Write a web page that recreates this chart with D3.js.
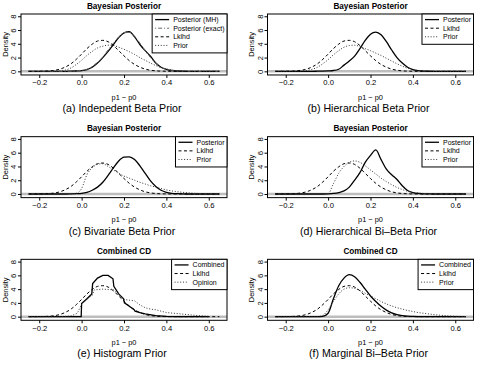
<!DOCTYPE html>
<html><head><meta charset="utf-8">
<script src="https://cdn.jsdelivr.net/npm/d3@7"></script>
<style>
body{margin:0;background:#fff}
svg{display:block}
text{font-family:"Liberation Sans",Arial,Helvetica,sans-serif;fill:#000}
</style>
</head><body>
<svg id="chart" width="493" height="368"></svg>
<script>
// ---------- DATA ----------
const xGrid = [-0.25,-0.225,-0.2,-0.175,-0.15,-0.125,-0.1,-0.075,-0.05,-0.025,
  0,0.025,0.05,0.075,0.1,0.125,0.15,0.175,0.2,0.225,
  0.25,0.275,0.3,0.325,0.35,0.375,0.4,0.425,0.45,0.475,
  0.5,0.525,0.55,0.575,0.6,0.625,0.65];
const xTicks = [-0.2,0.0,0.2,0.4,0.6];
const yTicks = [0,2,4,6,8];

const lkhd = [0,0,0.01,0.03,0.07,0.16,0.34,0.65,1.1,1.75,
  2.5,3.3,3.95,4.4,4.5,4.3,3.75,3.0,2.25,1.55,
  1.0,0.6,0.32,0.16,0.07,0.03,0.01,0,0,0,
  0,0,0,0,0,0,0];

const postMH_A = [0,0,0,0,0,0,0,0,0.02,0.05,
  0.1,0.25,0.6,1.2,2.0,2.9,3.9,4.9,5.6,5.75,
  5.0,3.9,3.0,2.2,1.2,0.6,0.3,0.12,0.05,0.02,
  0,0,0,0,0,0,0];
const postEx_A = [0,0,0,0,0,0,0,0,0.02,0.04,
  0.1,0.3,0.7,1.3,2.1,3.1,4.1,5.0,5.6,5.7,
  5.1,4.1,3.0,2.0,1.2,0.6,0.3,0.12,0.05,0.02,
  0,0,0,0,0,0,0];
const prior_A = [0,0,0,0,0,0,0.05,0.2,0.5,1.0,
  1.6,2.3,2.9,3.4,3.65,3.8,3.75,3.5,3.2,2.85,
  2.45,2.0,1.6,1.2,0.85,0.55,0.35,0.2,0.1,0.05,
  0.02,0,0,0,0,0,0];

const post_B = [0,0,0,0,0,0,0,0,0.02,0.04,
  0.07,0.12,0.3,0.9,1.5,2.2,3.3,4.5,5.4,5.7,
  5.3,4.3,3.1,2.0,1.2,0.6,0.25,0.1,0.04,0.01,
  0,0,0,0,0,0,0];
const prior_B = [0,0,0,0,0.02,0.05,0.12,0.3,0.6,1.1,
  1.7,2.4,3.0,3.5,3.75,3.8,3.6,3.3,3.0,2.65,
  2.3,1.9,1.5,1.1,0.75,0.45,0.25,0.12,0.05,0.02,
  0,0,0,0,0,0,0];

const post_C = [0,0,0,0,0,0,0,0,0.02,0.05,
  0.1,0.25,0.55,1.0,1.7,2.7,3.8,4.8,5.35,5.4,
  5.0,4.1,3.0,1.9,1.1,0.55,0.25,0.1,0.04,0.01,
  0,0,0,0,0,0,0];
const prior_C = [0,0,0,0,0,0,0,0,0,0.1,
  0.8,2.8,3.8,4.3,4.4,4.0,3.5,3.0,2.6,2.3,
  2.0,1.7,1.45,1.2,1.0,0.8,0.6,0.45,0.35,0.25,
  0.18,0.12,0.08,0.05,0.03,0.02,0.01];

const post_D = [0,0,0,0,0,0,0,0,0,0,
  0.02,0.08,0.2,0.45,1.0,2.0,3.1,4.6,5.6,6.4,
  5.0,3.6,2.8,2.1,1.2,0.5,0.2,0.08,0.03,0.01,
  0,0,0,0,0,0,0];
const prior_D = [0,0,0,0,0,0,0,0,0,0,
  0.05,1.5,3.0,4.0,4.6,4.8,4.6,4.1,3.5,2.9,
  2.3,1.8,1.35,0.95,0.65,0.4,0.25,0.15,0.08,0.04,
  0.02,0.01,0,0,0,0,0];

const xComb_E = [-0.25,-0.05,-0.002,0.0,0.025,0.048,0.052,0.075,0.1,0.125,0.148,0.152,0.175,0.198,0.202,0.225,0.248,0.252,0.275,0.3,0.35,0.4,0.45,0.5,0.6];
const comb_E  = [0,0,0,1.9,2.6,3.3,4.8,5.6,6.0,6.0,5.5,4.4,3.3,2.6,2.0,1.5,1.0,0.8,0.6,0.4,0.15,0.05,0.02,0,0];
const xOpin_E = [-0.25,-0.1,-0.05,-0.02,0.0,0.025,0.05,0.06,0.1,0.15,0.175,0.2,0.225,0.25,0.275,0.3,0.325,0.35,0.375,0.4,0.45,0.5,0.55,0.6];
const opin_E  = [0,0,0.1,0.5,1.8,2.5,3.1,3.9,4.0,3.9,3.3,2.5,2.4,2.3,1.7,1.3,1.1,1.0,0.8,0.6,0.45,0.3,0.15,0.05];

const comb_F = [0,0,0,0,0,0,0,0,0,0.05,
  0.5,2.6,4.5,5.6,6.1,5.8,5.0,4.0,3.0,2.2,
  1.5,0.95,0.55,0.3,0.15,0.08,0.04,0.02,0.01,0,
  0,0,0,0,0,0,0];
const prior_F = [0,0,0,0,0,0,0,0,0.02,0.2,
  1.0,2.2,3.3,4.0,4.2,4.1,3.8,3.4,3.0,2.6,
  2.2,1.85,1.55,1.3,1.1,0.9,0.75,0.6,0.5,0.4,
  0.3,0.22,0.16,0.1,0.06,0.03,0.01];

const titles = ["Bayesian Posterior","Bayesian Posterior","Bayesian Posterior","Bayesian Posterior","Combined CD","Combined CD"];
const captions = ["(a) Indepedent Beta Prior","(b) Hierarchical Beta Prior","(c) Bivariate Beta Prior","(d) Hierarchical Bi\u2013Beta Prior","(e) Histogram Prior","(f) Marginal Bi\u2013Beta Prior"];
const xLabel = "p1 \u2212 p0";
const yLabel = "Density";

// ---------- STYLES ----------
const styles = {
  solid:   {stroke:"#000", width:1.3, dash:null},
  dotdash: {stroke:"#666", width:1, dash:"1,2,4,2"},
  dashed:  {stroke:"#000", width:1, dash:"3,2.5"},
  dotted:  {stroke:"#333", width:1, dash:"1,1.8"}
};

const panels = [
  {series:[
    {name:"Posterior (MH)", x:xGrid, y:postMH_A, s:"solid"},
    {name:"Posterior (exact)", x:xGrid, y:postEx_A, s:"dotdash"},
    {name:"Lklhd", x:xGrid, y:lkhd, s:"dashed"},
    {name:"Prior", x:xGrid, y:prior_A, s:"dotted"}]},
  {series:[
    {name:"Posterior", x:xGrid, y:post_B, s:"solid"},
    {name:"Lklhd", x:xGrid, y:lkhd, s:"dashed"},
    {name:"Prior", x:xGrid, y:prior_B, s:"dotted"}]},
  {series:[
    {name:"Posterior", x:xGrid, y:post_C, s:"solid"},
    {name:"Lklhd", x:xGrid, y:lkhd, s:"dashed"},
    {name:"Prior", x:xGrid, y:prior_C, s:"dotted"}]},
  {series:[
    {name:"Posterior", x:xGrid, y:post_D, s:"solid"},
    {name:"Lklhd", x:xGrid, y:lkhd, s:"dashed"},
    {name:"Prior", x:xGrid, y:prior_D, s:"dotted"}]},
  {linear:true, series:[
    {name:"Combined", x:xComb_E, y:comb_E, s:"solid"},
    {name:"Lklhd", x:xGrid, y:lkhd, s:"dashed", smooth:true},
    {name:"Opinion", x:xOpin_E, y:opin_E, s:"dotted"}]},
  {series:[
    {name:"Combined", x:xGrid, y:comb_F, s:"solid"},
    {name:"Lklhd", x:xGrid, y:lkhd, s:"dashed"},
    {name:"Prior", x:xGrid, y:prior_F, s:"dotted"}]}
];

// ---------- DRAW ----------
const svg = d3.select("#chart");
const W = 493, H = 368, PW = W/2, PH = H/3;
const M = {left:21, right:19.5, top:14, bottom:47.7};
const fmt = d3.format(".1f");

panels.forEach((p, i) => {
  const col = i % 2, row = Math.floor(i / 2);
  const g = svg.append("g").attr("transform", `translate(${col*PW},${row*PH})`);
  const x0 = M.left, x1 = PW - M.right, y0 = M.top, y1 = PH - M.bottom;
  const x = d3.scaleLinear().domain([-0.286, 0.686]).range([x0, x1]);
  const y = d3.scaleLinear().domain([-0.528, 8.328]).range([y1, y0]);

  g.append("text").attr("x", (x0+x1)/2).attr("y", 8.5).attr("text-anchor","middle")
    .attr("font-size", 8.2).attr("font-weight","bold").text(titles[i]);

  const clip = "clip" + i;
  g.append("clipPath").attr("id", clip).append("rect")
    .attr("x", x0).attr("y", y0).attr("width", x1-x0).attr("height", y1-y0);
  const plot = g.append("g").attr("clip-path", `url(#${clip})`);

  plot.append("line").attr("x1", x0).attr("x2", x1).attr("y1", y(0)).attr("y2", y(0))
    .attr("stroke", "#bdbdbd").attr("stroke-width", 2.5);

  p.series.forEach(s => {
    const st = styles[s.s];
    const pts = s.x.map((xv, k) => [xv, s.y[k]]);
    const curve = (p.linear && !s.smooth) ? d3.curveLinear : d3.curveMonotoneX;
    const line = d3.line().x(d => x(d[0])).y(d => y(d[1])).curve(curve);
    plot.append("path").attr("d", line(pts)).attr("fill","none")
      .attr("stroke", st.stroke).attr("stroke-width", st.width)
      .attr("stroke-dasharray", st.dash);
  });

  const ax = g.append("g").attr("transform", `translate(0,${y1})`)
    .call(d3.axisBottom(x).tickValues(xTicks).tickSize(3).tickSizeOuter(0).tickFormat(fmt));
  ax.select(".domain").remove();
  ax.selectAll("line").attr("stroke","#000");
  ax.selectAll("text").attr("font-size", 7.6).attr("font-family",'"Liberation Sans",Arial,sans-serif').attr("y", 5);

  const ay = g.append("g").attr("transform", `translate(${x0},0)`)
    .call(d3.axisLeft(y).tickValues(yTicks).tickSize(3).tickSizeOuter(0).tickFormat(d3.format("d")));
  ay.select(".domain").remove();
  ay.selectAll("line").attr("stroke","#000");
  ay.selectAll("text").attr("font-size", 7.6).attr("font-family",'"Liberation Sans",Arial,sans-serif')
    .attr("x", null).attr("dy", null).attr("text-anchor","middle")
    .attr("transform", "translate(-5,0) rotate(-90)");

  g.append("rect").attr("x", x0).attr("y", y0).attr("width", x1-x0).attr("height", y1-y0)
    .attr("fill","none").attr("stroke","#000").attr("stroke-width",1);

  g.append("text").attr("transform", `translate(7.5,${(y0+y1)/2}) rotate(-90)`)
    .attr("text-anchor","middle").attr("font-size", 7.4).text(yLabel);
  g.append("text").attr("x", (x0+x1)/2).attr("y", 99.5).attr("text-anchor","middle")
    .attr("font-size", 7.4).text(xLabel);
  g.append("text").attr("x", (x0+x1)/2 - 2).attr("y", 112).attr("text-anchor","middle")
    .attr("font-size", 10.6).text(captions[i]);

  // legend
  const lg = g.append("g");
  const items = p.series;
  const rowH = 8.6, padL = 3, lineLen = 14, gap = 4, padR = 2.5;
  const texts = items.map((s, k) => lg.append("text")
    .attr("font-size", 7).attr("y", y0 + 5.6 + k*rowH).attr("dy","0.35em").text(s.name));
  const tw = d3.max(texts, t => t.node().getComputedTextLength());
  const lw = padL + lineLen + gap + tw + padR;
  const lh = items.length * rowH + 4.5;
  const lx = x1 - lw;
  lg.insert("rect", "text").attr("x", lx).attr("y", y0).attr("width", lw).attr("height", lh)
    .attr("fill","#fff").attr("stroke","#000").attr("stroke-width",1);
  texts.forEach(t => t.attr("x", lx + padL + lineLen + gap));
  items.forEach((s, k) => {
    const st = styles[s.s];
    lg.append("line").attr("x1", lx + padL).attr("x2", lx + padL + lineLen)
      .attr("y1", y0 + 5.6 + k*rowH).attr("y2", y0 + 5.6 + k*rowH)
      .attr("stroke", st.stroke).attr("stroke-width", st.width).attr("stroke-dasharray", st.dash);
  });
});
</script>
</body></html>
